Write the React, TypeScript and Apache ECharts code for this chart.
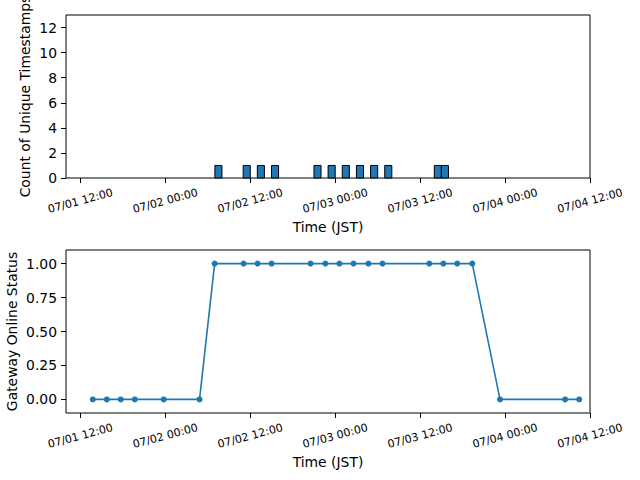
import React, { useEffect, useRef } from "react";
import * as echarts from "echarts";

const YEAR = 2025;

// Bottom panel: gateway online status samples
const onlineTimes = [
  "07/01 13:45", "07/01 15:44", "07/01 17:42", "07/01 19:41", "07/01 23:46",
  "07/02 04:50", "07/02 06:58", "07/02 11:03", "07/02 13:02", "07/02 15:01",
  "07/02 20:31", "07/02 22:37", "07/03 00:36", "07/03 02:35", "07/03 04:42",
  "07/03 06:41", "07/03 13:18", "07/03 15:17", "07/03 17:14", "07/03 19:22",
  "07/03 23:17", "07/04 08:29", "07/04 10:29",
];
const onlineStatus = [0, 0, 0, 0, 0, 0, 1, 1, 1, 1, 1, 1, 1, 1, 1, 1, 1, 1, 1, 1, 0, 0, 0];

// Top panel: histogram bins of unique timestamps
const binStarts = [
  "07/02 07:00", "07/02 11:00", "07/02 13:00", "07/02 15:00", "07/02 21:00",
  "07/02 23:00", "07/03 01:00", "07/03 03:00", "07/03 05:00", "07/03 07:00",
  "07/03 14:00", "07/03 15:00",
];
const binEnds = [
  "07/02 08:00", "07/02 12:00", "07/02 14:00", "07/02 16:00", "07/02 22:00",
  "07/03 00:00", "07/03 02:00", "07/03 04:00", "07/03 06:00", "07/03 08:00",
  "07/03 15:00", "07/03 16:00",
];
const binCounts = [1, 1, 1, 1, 1, 1, 1, 1, 1, 1, 1, 1];

const xRange = ["07/01 09:58", "07/04 12:00"];
const xTickLabels = [
  "07/01 12:00", "07/02 00:00", "07/02 12:00", "07/03 00:00",
  "07/03 12:00", "07/04 00:00", "07/04 12:00",
];
const countTicks = [0, 2, 4, 6, 8, 10, 12];
const countRange = [0, 13];
const statusTicks = [0, 0.25, 0.5, 0.75, 1];
const statusRange = [-0.1, 1.1];

function toMs(s: string): number {
  const [md, hm] = s.split(" ");
  const [mo, d] = md.split("/").map(Number);
  const [h, mi] = hm.split(":").map(Number);
  return new Date(YEAR, mo - 1, d, h, mi).getTime();
}
const pad = (n: number) => String(n).padStart(2, "0");
function fmt(v: number): string {
  const d = new Date(v);
  return `${pad(d.getMonth() + 1)}/${pad(d.getDate())} ${pad(d.getHours())}:${pad(d.getMinutes())}`;
}

const FONT = "DejaVu Sans";
const BLUE = "#1f77b4";

export default function App() {
  const ref = useRef<HTMLDivElement>(null);
  useEffect(() => {
    if (!ref.current) return;
    const chart = echarts.init(ref.current, undefined, { renderer: "svg" });
    const xTicks = xTickLabels.map(toMs);
    const xMin = toMs(xRange[0]);
    const xMax = toMs(xRange[1]);

    const makeX = (gridIndex: number) => ({
      type: "value" as const,
      gridIndex,
      min: xMin,
      max: xMax,
      axisLine: { show: false, onZero: false },
      splitLine: { show: false },
      axisTick: {
        show: true,
        customValues: xTicks,
        length: 5,
        lineStyle: { color: "#000", width: 1 },
      },
      axisLabel: {
        customValues: xTicks,
        formatter: (v: number) => fmt(v),
        rotate: 15,
        align: "center",
        verticalAlign: "middle",
        margin: 23,
        fontSize: 11,
        fontFamily: FONT,
        color: "#000",
        showMinLabel: true,
        showMaxLabel: true,
        hideOverlap: false,
      },
      name: "Time (JST)",
      nameLocation: "middle" as const,
      nameGap: 42,
      nameMoveOverlap: false,
      nameTextStyle: { fontSize: 13.9, fontFamily: FONT, color: "#000" },
    });

    const makeY = (
      gridIndex: number,
      range: number[],
      ticks: number[],
      name: string,
      nameGap: number,
      formatter: (v: number) => string
    ) => ({
      type: "value" as const,
      gridIndex,
      min: range[0],
      max: range[1],
      axisLine: { show: false, onZero: false },
      splitLine: { show: false },
      axisTick: {
        show: true,
        customValues: ticks,
        length: 5,
        lineStyle: { color: "#000", width: 1 },
      },
      axisLabel: {
        customValues: ticks,
        formatter,
        margin: 9,
        fontSize: 13.9,
        fontFamily: FONT,
        color: "#000",
        showMinLabel: true,
        showMaxLabel: true,
      },
      name,
      nameLocation: "middle" as const,
      nameGap,
      nameMoveOverlap: false,
      nameTextStyle: { fontSize: 13.9, fontFamily: FONT, color: "#000" },
    });

    chart.setOption({
      animation: false,
      backgroundColor: "#fff",
      grid: [
        { left: 66, right: 50, top: 15, height: 163, outerBoundsMode: "none", containLabel: false, show: true, borderColor: "#000", borderWidth: 1, backgroundColor: "transparent" },
        { left: 66, right: 50, top: 250, height: 163, outerBoundsMode: "none", containLabel: false, show: true, borderColor: "#000", borderWidth: 1, backgroundColor: "transparent" },
      ],
      xAxis: [makeX(0), makeX(1)],
      yAxis: [
        makeY(0, countRange, countTicks, "Count of Unique Timestamps", 34, (v: number) => String(v)),
        makeY(1, statusRange, statusTicks, "Gateway Online Status", 47, (v: number) => v.toFixed(2)),
      ],
      series: [
        {
          type: "custom",
          xAxisIndex: 0,
          yAxisIndex: 0,
          encode: { x: [0, 1], y: 2 },
          data: binStarts.map((s, i) => [toMs(s), toMs(binEnds[i]), binCounts[i]]),
          renderItem: (_params: any, api: any) => {
            const p0 = api.coord([api.value(0), api.value(2)]);
            const p1 = api.coord([api.value(1), 0]);
            return {
              type: "rect",
              shape: { x: p0[0], y: p0[1], width: p1[0] - p0[0], height: p1[1] - p0[1] },
              style: { fill: BLUE, stroke: "#000", lineWidth: 1 },
            };
          },
        },
        {
          type: "line",
          xAxisIndex: 1,
          yAxisIndex: 1,
          data: onlineTimes.map((t, i) => [toMs(t), onlineStatus[i]]),
          symbol: "circle",
          symbolSize: 6,
          showSymbol: true,
          lineStyle: { color: BLUE, width: 1.6 },
          itemStyle: { color: BLUE },
        },
      ],
    });
    return () => chart.dispose();
  }, []);
  return <div ref={ref} style={{ width: 640, height: 480, position: "absolute", left: 0, top: 0 }} />;
}
